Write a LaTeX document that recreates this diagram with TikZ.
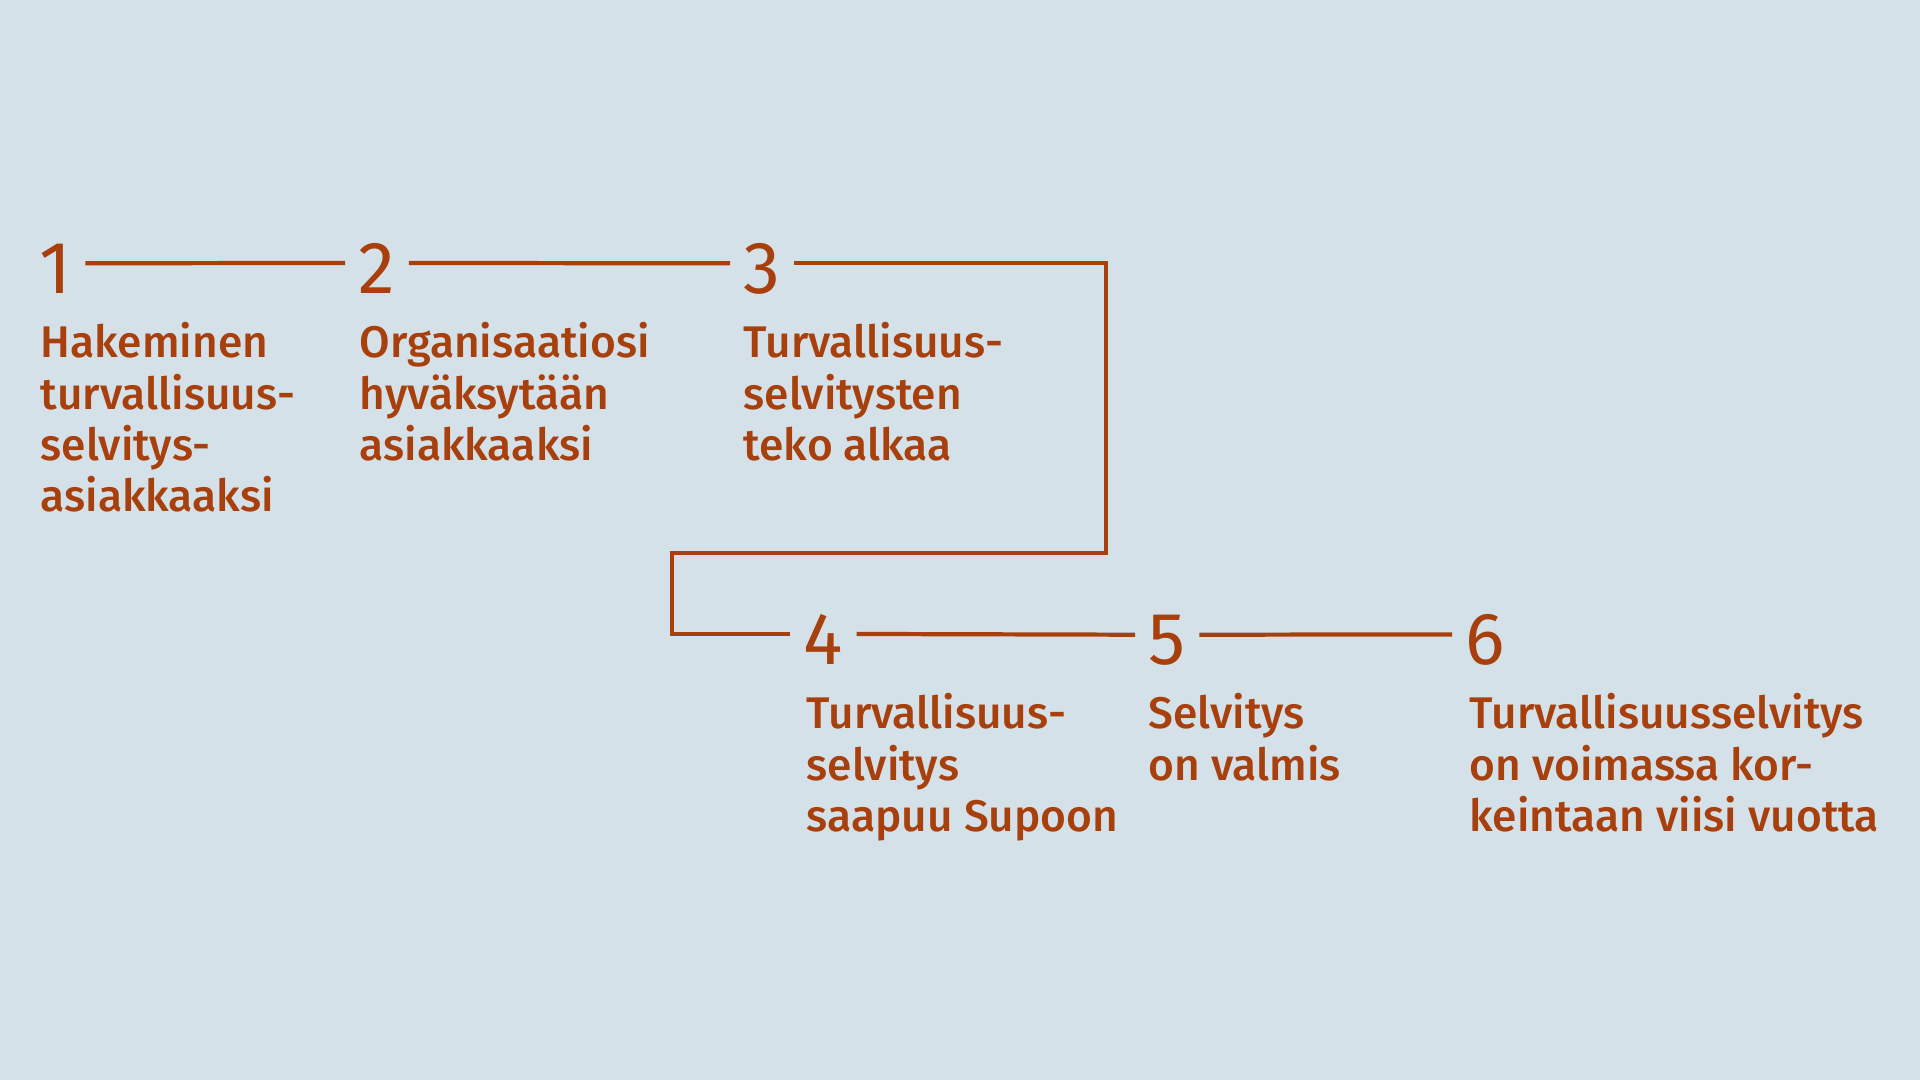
\documentclass[tikz,border=0pt]{standalone}
\usepackage{fontspec}
\usepackage{xcolor}
\usepackage{tikz}
\usetikzlibrary{positioning}
\newfontfamily\stepnumfont{Fira Sans}
\newfontfamily\steptextfont{Fira Sans Medium}
\definecolor{paleBg}{HTML}{D5E1E8}
\definecolor{rust}{HTML}{A8400E}

\begin{document}
\begin{tikzpicture}[x=1cm,y=1cm,
  num/.style={anchor=base west,inner sep=0pt,text=rust,font=\stepnumfont\fontsize{21}{21}\selectfont},
  desc/.style={anchor=north west,inner sep=0pt,align=left,text=rust,font=\steptextfont\fontsize{12.6}{14.6}\selectfont},
  link/.style={draw=rust,line width=1.2pt,shorten <=1.3mm,shorten >=1.3mm}]
  \fill[paleBg] (0,0) rectangle (19.2,10.8);

  % first row
  \node[num] (d1) at (0.39,7.86) {1};
  \node[num] (d2) at (3.58,7.86) {2};
  \node[num] (d3) at (7.43,7.86) {3};
  \node[desc] (l1) at (0.40,7.58) {Hakeminen\\turvallisuus-\\selvitys-\\asiakkaaksi};
  \node[desc] (l2) at (3.59,7.58) {Organisaatiosi\\hyväksytään\\asiakkaaksi};
  \node[desc] (l3) at (7.43,7.58) {Turvallisuus-\\selvitysten\\teko alkaa};

  % second row
  \node[num] (d4) at (8.03,4.15) {4};
  \node[num] (d5) at (11.48,4.15) {5};
  \node[num] (d6) at (14.65,4.15) {6};
  \node[desc] (l4) at (8.06,3.87) {Turvallisuus-\\selvitys\\saapuu Supoon};
  \node[desc] (l5) at (11.48,3.87) {Selvitys\\on valmis};
  \node[desc] (l6) at (14.69,3.87) {Turvallisuusselvitys\\on voimassa kor-\\keintaan viisi vuotta};

  \coordinate (turnR) at (11.06,5.27);
  \coordinate (turnL) at (6.72,5.27);
  \draw[link] ([yshift=0.6mm]d1.east) -- ([yshift=0.6mm]d2.west);
  \draw[link] ([yshift=0.6mm]d2.east) -- ([yshift=0.6mm]d3.west);
  \draw[link] ([yshift=0.6mm]d3.east) -| (turnR) -- (turnL) |- ([yshift=0.6mm]d4.west);
  \draw[link] ([yshift=0.6mm]d4.east) -- ([yshift=0.6mm]d5.west);
  \draw[link] ([yshift=0.6mm]d5.east) -- ([yshift=0.6mm]d6.west);
\end{tikzpicture}
\end{document}
